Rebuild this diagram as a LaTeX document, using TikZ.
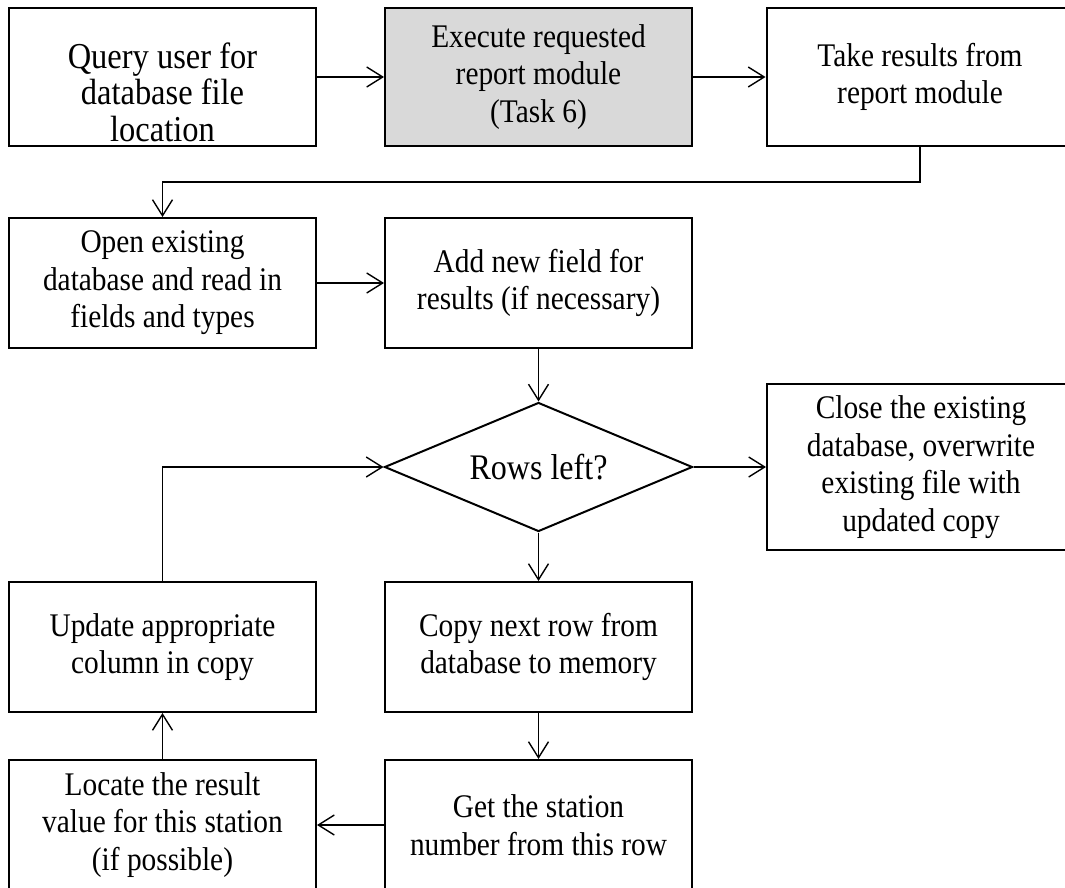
\documentclass[tikz,border=0pt]{standalone}
\usepackage{fontspec}
\setmainfont{Liberation Serif}[FakeStretch=0.89]
\usetikzlibrary{shapes.geometric,arrows.meta,calc}
\definecolor{boxgray}{RGB}{217,217,217}
\tikzset{
  x=1pt,y=-1pt,
  boxfont/.style={font=\fontsize{33}{37.5}\selectfont},
  stepbox/.style={draw=black,line width=2pt,rectangle,minimum width=307pt,minimum height=130pt,inner sep=0pt,align=center,boxfont},
  txt/.style={inner sep=0pt,align=center,font=\fontsize{36.5}{36.5}\selectfont},
  decision/.style={draw=black,line width=2pt,diamond,aspect=2.4,minimum width=308pt,minimum height=129pt,inner sep=0pt,font=\fontsize{36}{37.5}\selectfont},
  flow/.style={line width=1.4pt,-{Straight Barb[length=16pt,width=20pt,line width=1.4pt]}},
}
\begin{document}
\begin{tikzpicture}
\useasboundingbox[fill=white] (0,0) rectangle (1065,888);
% row 1
\node[stepbox,minimum height=138pt] (q) at (162.5,77) {};
\node[txt] (qt) at (162.5,92) {Query user for\\database file\\location};
\node[stepbox,minimum height=138pt,fill=boxgray] (e) at (538.5,77) {Execute requested\\report module\\(Task 6)};
\node[stepbox,minimum height=138pt] (t) at (920,77) {Take results from\\report module};
% row 2
\node[stepbox] (o) at (162.5,283) {Open existing\\database and read in\\fields and types};
\node[stepbox] (a) at (538.5,283) {Add new field for\\results (if necessary)};
% decision
\node[decision] (d) at (538.5,467) {Rows left?};
\node[stepbox,minimum width=308pt,minimum height=166pt] (c) at (921,467) {Close the existing\\database, overwrite\\existing file with\\updated copy};
% row 3
\node[stepbox] (u) at (162.5,647) {Update appropriate\\column in copy};
\node[stepbox] (cp) at (538.5,647) {Copy next row from\\database to memory};
% row 4
\node[stepbox] (l) at (162.5,825) {Locate the result\\value for this station\\(if possible)};
\node[stepbox] (g) at (538.5,825) {Get the station\\number from this row};
% connectors
\draw[flow] (q.east) -- (e.west);
\draw[flow] (e.east) -- (t.west);
\draw[flow] (t.south) |- (162.5,182) -- (o.north);
\draw[flow] (o.east) -- (a.west);
\draw[flow] (a.south) -- (d.north);
\draw[flow] (d.east) -- (c.west);
\draw[flow] (d.south) -- (cp.north);
\draw[flow] (cp.south) -- (g.north);
\draw[flow] (g.west) -- (l.east);
\draw[flow] (l.north) -- (u.south);
\draw[flow] (u.north) |- (d.west);
\end{tikzpicture}
\end{document}
